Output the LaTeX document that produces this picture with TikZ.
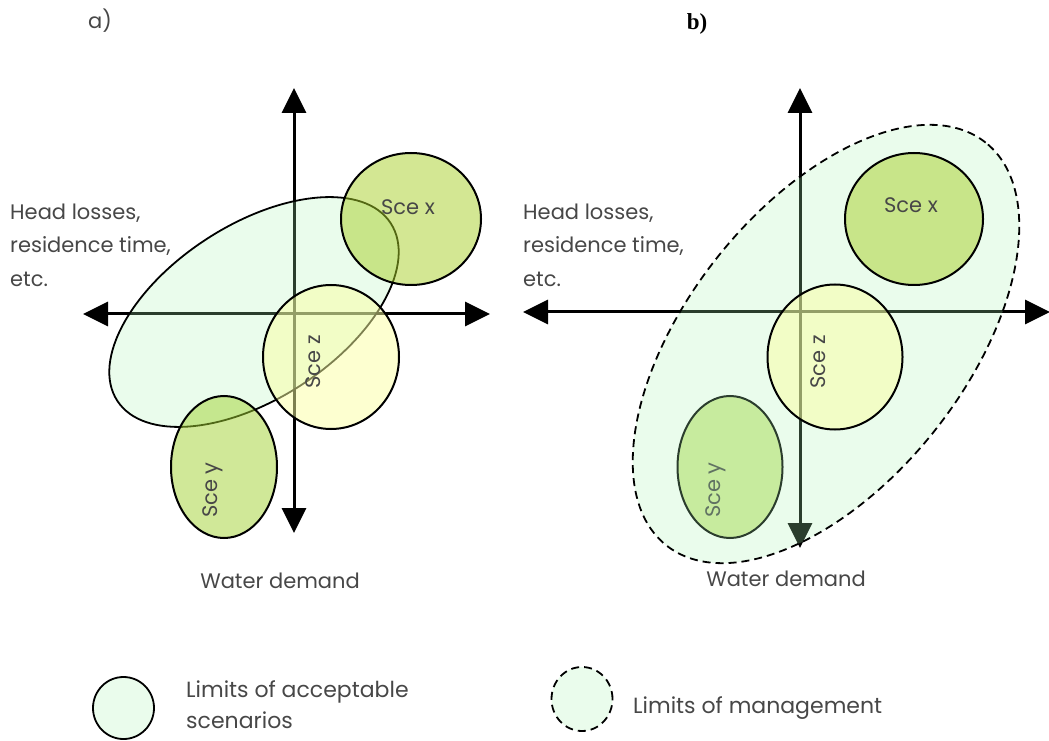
\documentclass[tikz,border=0pt]{standalone}
\usepackage{fontspec}
\setmainfont{Poppins}
\newfontfamily\serifbold{Liberation Serif}
\usetikzlibrary{arrows.meta}
\definecolor{txt}{HTML}{474747}
\definecolor{mint}{HTML}{ACF4B4}
\definecolor{scexc}{HTML}{A7CF27}
\definecolor{scezc}{HTML}{FBFFA1}
\definecolor{sceyc}{HTML}{A1D131}
\tikzset{
  axis/.style={line width=3pt,{Triangle[length=25pt,width=24pt]}-{Triangle[length=25pt,width=24pt]}},
  limitacc/.style={draw=black, line width=1.8pt, fill=mint, fill opacity=0.25},
  limitman/.style={draw=black, line width=1.8pt, dash pattern=on 8pt off 5pt, fill=mint, fill opacity=0.25},
  scex/.style={draw=black, line width=2pt, fill=scexc, fill opacity=0.5},
  scez/.style={draw=black, line width=2pt, fill=scezc, fill opacity=0.5},
  scey/.style={draw=black, line width=2pt, fill=sceyc, fill opacity=0.5},
  lbl/.style={text=txt, inner sep=0pt, font=\fontsize{21}{25}\selectfont},
  leg/.style={text=txt, inner sep=0pt, font=\fontsize{22}{26}\selectfont, anchor=base west},
}
\begin{document}
\begin{tikzpicture}[x=1pt,y=1pt]
\useasboundingbox (0,0) rectangle (1049,740);
% ---------------- panel a ----------------
\node[lbl] (ta) at (100,719) {a)};
\coordinate (aT) at (294,652);
\coordinate (aB) at (294,207);
\coordinate (aL) at (83,426);
\coordinate (aR) at (490,426);
\draw[axis] (aB) -- (aT);
\draw[axis] (aL) -- (aR);
\path[limitacc] (254,428) ellipse[x radius=163, y radius=87, rotate=33];
\path[scex] (411,521) ellipse[x radius=70, y radius=66];
\path[scez] (331,383) ellipse[x radius=68, y radius=72];
\path[scey] (224,273) ellipse[x radius=53, y radius=71];
\node[lbl] (axl) at (408,533) {Sce x};
\node[lbl, rotate=90] (azl) at (313,378) {Sce z};
\node[lbl, rotate=90] (ayl) at (213,250) {Sce y};
\node[lbl, anchor=base west] (ah1) at (10,520) {Head losses,};
\node[lbl, anchor=base west] (ah2) at (10,487) {residence time,};
\node[lbl, anchor=base west] (ah3) at (10,453) {etc.};
\node[lbl, anchor=base] (aw) at (280,152) {Water demand};
% ---------------- panel b ----------------
\node[text=black, inner sep=0pt, font=\serifbold\bfseries\fontsize{23}{26}\selectfont] (tb) at (697,716) {b)};
\coordinate (bT) at (800,652);
\coordinate (bB) at (800,192);
\coordinate (bL) at (523,428);
\coordinate (bR) at (1050,428);
\draw[axis] (bB) -- (bT);
\draw[axis] (bL) -- (bR);
\path[scey] (730,273) ellipse[x radius=52.5, y radius=71];
\node[lbl, rotate=90] (byl) at (716,250) {Sce y};
\path[limitman] (826,396) ellipse[x radius=257, y radius=139, rotate=51.6];
\path[scex] (914,521) ellipse[x radius=69, y radius=66];
\path[scez] (835,383) ellipse[x radius=67.5, y radius=72.5];
\node[lbl] (bxl) at (911,535) {Sce x};
\node[lbl, rotate=90] (bzl) at (818,378) {Sce z};
\node[lbl, anchor=base west] (bh1) at (523,520) {Head losses,};
\node[lbl, anchor=base west] (bh2) at (523,487) {residence time,};
\node[lbl, anchor=base west] (bh3) at (523,453) {etc.};
\node[lbl, anchor=base] (bw) at (786,154) {Water demand};
% ---------------- legend ----------------
\path[limitacc] (123.5,32) ellipse[x radius=30.5, y radius=31];
\node[leg] (l1) at (186,43) {Limits of acceptable};
\node[leg] (l2) at (186,12) {scenarios};
\path[limitman] (582,41) ellipse[x radius=30.5, y radius=32];
\node[leg] (l3) at (633,27) {Limits of management};
\end{tikzpicture}
\end{document}
